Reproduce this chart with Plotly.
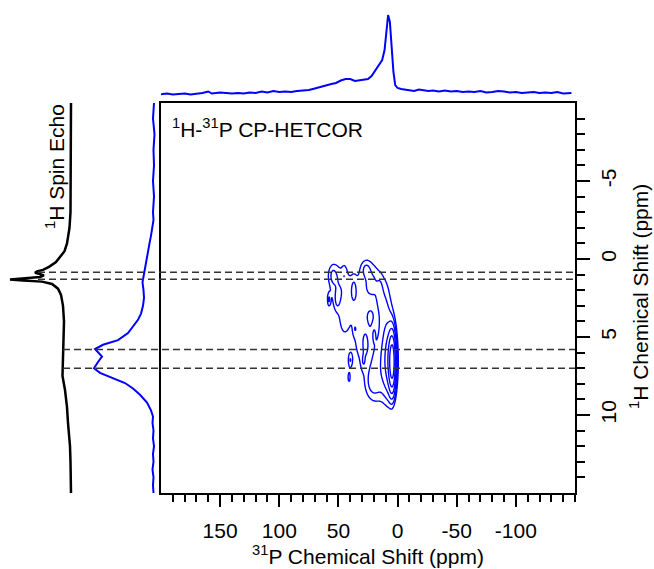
import numpy as np
import plotly.graph_objects as go

# ---- 31P projection (top trace) ----
p31_ppm = [200, 195, 190, 185, 180, 175, 170, 165, 160, 157, 150, 145, 140, 135, 130, 125, 120, 115,
           110, 105, 100, 95, 90, 85, 80, 75, 70, 67, 64, 60, 56, 52, 48, 44, 40, 36, 32, 28, 25,
           22, 19, 16, 13, 11, 9.5, 8, 6.5, 5, 3.5, 2, 0, -3, -6, -10, -14, -18, -22, -26, -30,
           -35, -40, -45, -50, -55, -60, -65, -70, -75, -80, -85, -90, -95, -100, -105, -110,
           -115, -120, -125, -130, -135, -140, -147]
p31_int = [5.7, 6.5, 5.5, 6, 6.5, 5.5, 6, 7, 8.5, 6.5, 7.5, 7, 6.5, 7, 6.5, 7.5, 7, 8.5,
           7.5, 9, 8, 8.5, 8, 9, 9.5, 10, 11.5, 12.5, 14, 15, 16, 17, 19.5, 21, 21, 19, 20, 21, 21,
           24, 29, 34, 40, 50, 70, 85, 78, 55, 28, 15, 12, 11, 10.5, 10, 9, 10.5, 10, 9, 9.5,
           8.5, 9.5, 8.5, 9, 8, 8.5, 8, 9, 7.5, 8, 9, 8.5, 7.5, 8, 7, 7.5,
           8, 7, 7.5, 7, 8, 6.5, 7]

# ---- 1H projection of the 2D (blue, left) ----
h1_proj_ppm = [-10, -9, -8, -7, -6, -5, -4, -3, -2.5, -2, -1.5, -1, -0.5, 0, 0.5, 1, 1.5, 2, 2.5, 3,
               3.5, 3.9, 4.4, 4.75, 5.2, 5.5, 5.77, 6.0, 6.26, 6.6, 6.85, 7.0, 7.3, 7.6, 7.95, 8.3,
               8.7, 9.2, 9.7, 10.1, 10.5, 11, 11.5, 12, 12.5, 13, 13.5, 14, 14.5, 15]
h1_proj_int = [4, 5, 3.5, 4.5, 4, 5, 4, 5, 4.5, 5.5, 7, 8.5, 10, 11.5, 13, 14.5, 15.5, 14.5, 14, 15,
               17, 20, 26, 30, 40, 55, 63, 60, 56, 60, 63, 64, 58, 46, 33, 25,
               18, 11, 7, 5, 5.5, 4.5, 5, 4, 5, 4.5, 5.5, 4.5, 5, 4.5]

# ---- 1H spin echo (black, far left) ----
echo_ppm = [-10, -8, -6, -4, -3, -2, -1.5, -1, -0.5, -0.2, 0.2, 0.5, 0.7, 0.8, 0.88, 0.95, 1.05,
            1.15, 1.22, 1.28, 1.32, 1.38, 1.45, 1.6, 1.9, 2.3, 3.0, 4.0, 5.0, 6.0, 7.0, 7.5, 8.4,
            9.5, 10.5, 12, 13, 15]
echo_int = [2, 2, 2, 2.2, 2.5, 3.5, 4.5, 6, 8.5, 12, 17, 24, 30, 36, 38, 34, 29,
            33, 50, 62, 63, 50, 31, 21, 15, 12, 10, 9, 9.5, 10, 11, 10.5, 8,
            6, 5, 3, 2.5, 2]

# ---- 2D HETCOR cross-peak components (31P ppm, 1H ppm, widths, amplitude) ----
comp_p = [4.5, 7, 14, 12, 22, 35, 50, 55, 30, 22, 40, 58, 41, 27, 45,
          37, 51, 36, 27, 29, 20, 45, 15]
comp_h = [6.6, 6.4, 6.8, 3.0, 1.5, 2.5, 2.0, 1.0, 5.5, 8.0, 6.5, 2.6, 7.6, 0.6, 4.2,
          1.9, 2.6, 4.5, 5.4, 6.6, 4.8, 0.9, 2.2]
comp_sp = [1.8, 3.5, 7, 5, 5, 8, 6, 3, 6, 5, 1.5, 1.0, 1.0, 3, 3,
           1.5, 1.5, 1.2, 1.5, 1.5, 1.2, 1.5, 1.5]
comp_sh = [1.1, 1.5, 1.6, 1.5, 1.0, 1.5, 1.3, 0.5, 1.2, 0.8, 0.4, 0.3, 0.3, 0.4, 0.6,
           0.5, 0.4, 0.3, 0.5, 0.4, 0.4, 0.4, 0.6]
comp_amp = [10, 3, 1.3, 1.0, 0.9, 0.8, 0.85, 0.7, 0.7, 0.75, 0.9, 0.8, 0.8, 0.6, 0.5,
            0.45, 0.45, 0.4, 0.45, 0.4, 0.4, 0.35, 0.45]

contour_base = 0.6      # lowest contour level
contour_factor = 1.7    # ratio between successive levels
n_levels = 7

dashed_h = [0.85, 1.3, 5.8, 7.0]
x_ticks = [150, 100, 50, 0, -50, -100]
y_ticks = [-5, 0, 5, 10]

W, H = 654, 569
FONT = "Liberation Sans, Arial, sans-serif"
FS = 21

def px_x(p):
    return p / W

def px_y(p):
    return 1 - p / H

# grid for contour
gp = np.arange(-10, 75.01, 0.5)
gh = np.arange(-3, 12.01, 0.1)
PP, HH = np.meshgrid(gp, gh)
Z = np.zeros_like(PP)
for cp, ch, sp, sh, a in zip(comp_p, comp_h, comp_sp, comp_sh, comp_amp):
    Z += a * np.exp(-((PP - cp) ** 2 / (2 * sp ** 2) + (HH - ch) ** 2 / (2 * sh ** 2)))
# geometric contour levels -> linear levels on log intensity
LZ = np.log(np.maximum(Z, 1e-8))
lstart = np.log(contour_base)
lstep = np.log(contour_factor)

fig = go.Figure()

fig.add_trace(go.Contour(
    x=gp, y=gh, z=LZ, xaxis="x", yaxis="y",
    contours=dict(coloring="lines", start=lstart, end=lstart + lstep * (n_levels - 0.5), size=lstep),
    line=dict(width=1.4), colorscale=[[0, "blue"], [1, "blue"]],
    showscale=False, hoverinfo="skip"))

fig.add_trace(go.Scatter(x=p31_ppm, y=p31_int, xaxis="x2", yaxis="y2", mode="lines",
                         line=dict(color="blue", width=2), showlegend=False))
fig.add_trace(go.Scatter(x=h1_proj_int, y=h1_proj_ppm, xaxis="x3", yaxis="y3", mode="lines",
                         line=dict(color="blue", width=2), showlegend=False))
fig.add_trace(go.Scatter(x=echo_int, y=echo_ppm, xaxis="x4", yaxis="y4", mode="lines",
                         line=dict(color="black", width=2.5), showlegend=False))

main_xdom = [px_x(161), px_x(575)]
main_ydom = [px_y(493), px_y(103)]
xr = [200, -150]
yr = [15, -10]

shapes = []
for i, h in enumerate(dashed_h):
    x0 = px_x(38) if i < 2 else px_x(63)
    shapes.append(dict(type="line", xref="paper", yref="y", x0=x0, x1=main_xdom[1], y0=h, y1=h,
                       line=dict(color="#333333", width=1.5, dash="7px,4px"), layer="above"))

fig.update_layout(
    width=W, height=H, margin=dict(l=0, r=0, t=0, b=0),
    paper_bgcolor="white", plot_bgcolor="white", showlegend=False,
    font=dict(family=FONT, size=FS, color="black"),
    xaxis=dict(domain=main_xdom, range=xr, anchor="y", showgrid=False, zeroline=False,
               showline=True, linewidth=2, linecolor="black", mirror=True,
               ticks="outside", ticklen=12, tickwidth=2, tickcolor="black",
               tickmode="array", tickvals=x_ticks, ticktext=[str(v) for v in x_ticks],
               minor=dict(tickmode="array", tickvals=list(range(190, -151, -10)),
                          ticks="outside", ticklen=7, tickwidth=2, tickcolor="black", showgrid=False),
               tickfont=dict(size=FS), automargin=False, ticklabelstandoff=6,
               title=dict(text="<sup>31</sup>P Chemical Shift (ppm)", standoff=8, font=dict(size=FS))),
    yaxis=dict(domain=main_ydom, range=yr, anchor="x", side="right", showgrid=False, zeroline=False,
               showline=True, linewidth=2, linecolor="black", mirror=True,
               ticks="outside", ticklen=13, tickwidth=2, tickcolor="black",
               tickmode="array", tickvals=y_ticks, ticktext=[str(v) for v in y_ticks],
               minor=dict(tickmode="array", tickvals=list(range(-9, 15)),
                          ticks="outside", ticklen=8, tickwidth=2, tickcolor="black", showgrid=False),
               tickangle=-90, tickfont=dict(size=FS), automargin=False, ticklabelstandoff=1),
    xaxis2=dict(domain=main_xdom, range=xr, anchor="y2", visible=False),
    yaxis2=dict(domain=[px_y(100), px_y(10)], range=[0, 90], anchor="x2", visible=False),
    xaxis3=dict(domain=[px_x(83), px_x(158)], range=[75, 0], anchor="y3", visible=False),
    yaxis3=dict(domain=main_ydom, range=yr, anchor="x3", visible=False),
    xaxis4=dict(domain=[px_x(3), px_x(73)], range=[70, 0], anchor="y4", visible=False),
    yaxis4=dict(domain=main_ydom, range=yr, anchor="x4", visible=False),
    shapes=shapes,
    annotations=[
        dict(text="<sup>1</sup>H-<sup>31</sup>P CP-HETCOR", xref="paper", yref="paper",
             x=px_x(170), y=px_y(128), xanchor="left", yanchor="middle", showarrow=False,
             font=dict(size=FS)),
        dict(text="<sup>1</sup>H Spin Echo", xref="paper", yref="paper",
             x=px_x(55), y=px_y(167), xanchor="center", yanchor="middle", showarrow=False,
             textangle=-90, font=dict(size=FS)),
        dict(text="<sup>1</sup>H Chemical Shift (ppm)", xref="paper", yref="paper",
             x=px_x(639), y=px_y(297), xanchor="center", yanchor="middle", showarrow=False,
             textangle=-90, font=dict(size=FS)),
    ],
)

fig.write_html("out.html", config={"displayModeBar": False},
               post_script="document.body.style.margin='0px';document.body.style.overflow='hidden';")
